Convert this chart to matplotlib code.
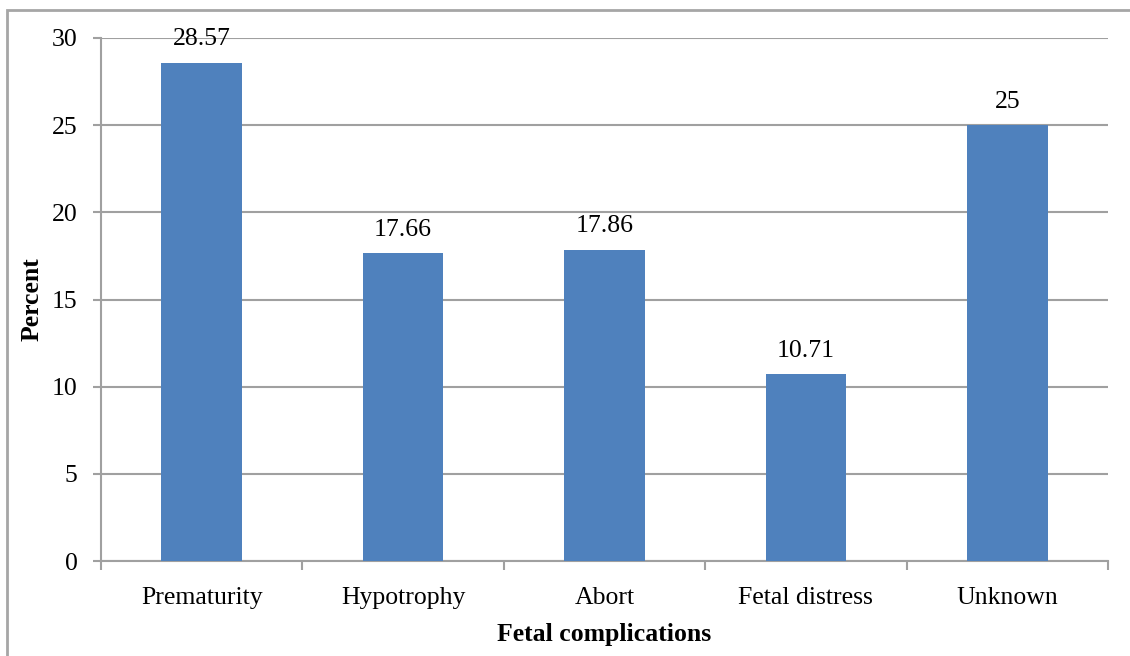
import matplotlib
matplotlib.use("Agg")
import matplotlib.pyplot as plt
from matplotlib.patches import Rectangle

categories = ["Prematurity", "Hypotrophy", "Abort", "Fetal distress", "Unknown"]
values = [28.57, 17.66, 17.86, 10.71, 25]
value_labels = ["28.57", "17.66", "17.86", "10.71", "25"]
y_ticks = [0, 5, 10, 15, 20, 25, 30]

plt.rcParams["font.family"] = ["Liberation Serif", "DejaVu Serif"]
FS = 18.5

W, H = 1130, 656
fig = plt.figure(figsize=(W / 100, H / 100), dpi=100)
fig.patch.set_facecolor("white")

# outer chart-area frame (runs past the right and bottom edges)
fig.patches.append(Rectangle((7 / W, -0.05), 1.2, (H - 10) / H + 0.05,
                             transform=fig.transFigure, fill=False,
                             edgecolor="#A6A6A6", linewidth=2.0))

ax = fig.add_axes([101 / W, (H - 561) / H, (1108 - 101) / W, (561 - 38) / H])
x = list(range(len(categories)))
ax.bar(x, values, width=0.4, color="#4F81BD", zorder=3)

ax.set_xlim(-0.5, len(categories) - 0.5)
ax.set_ylim(0, 30)
ax.set_yticks(y_ticks)
ax.set_yticklabels([str(t) for t in y_ticks], fontsize=FS)
ax.set_xticks(x)
ax.set_xticklabels(categories, fontsize=FS)
ax.set_xticks([i - 0.5 for i in range(len(categories) + 1)], minor=True)

grid_c = "#A0A0A0"
ax.yaxis.grid(True, color=grid_c, linewidth=1.5, zorder=0)
ax.set_axisbelow(True)
for s in ["top", "right"]:
    ax.spines[s].set_visible(False)
for s in ["left", "bottom"]:
    ax.spines[s].set_color(grid_c)
    ax.spines[s].set_linewidth(1.5)

ax.tick_params(axis="y", length=5.8, width=1.5, color=grid_c, pad=11)
ax.tick_params(axis="x", which="major", length=0, pad=19)
ax.tick_params(axis="x", which="minor", length=6.5, width=1.5, color=grid_c)

for xi, v, lab in zip(x, values, value_labels):
    ax.annotate(lab, (xi, v), xytext=(0, 9), textcoords="offset points",
                ha="center", va="bottom", fontsize=FS)

ax.set_ylabel("Percent", fontsize=FS, fontweight="bold", labelpad=6)
ax.set_xlabel("Fetal complications", fontsize=FS, fontweight="bold", labelpad=10)

fig.savefig("out.png", dpi=100)
